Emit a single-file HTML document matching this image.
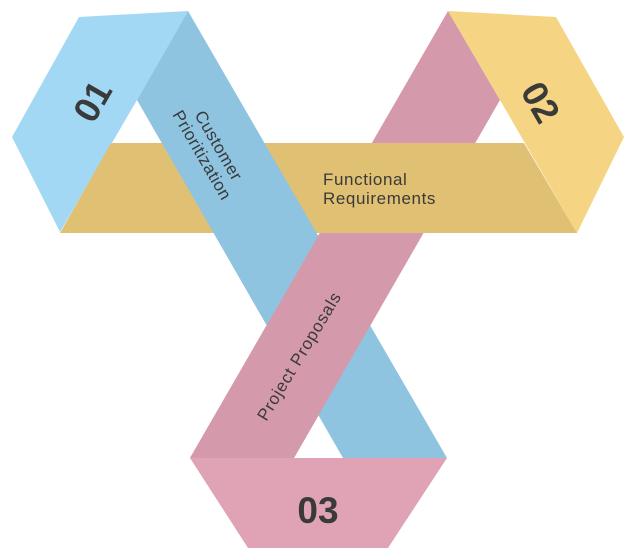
<!DOCTYPE html>
<html><head><style>html,body{margin:0;padding:0;background:#fff}svg{display:block}</style></head>
<body>
<svg width="632" height="560" viewBox="0 0 632 560" xmlns="http://www.w3.org/2000/svg" font-family="Liberation Sans, sans-serif">
<defs><clipPath id="low"><rect x="0" y="233" width="632" height="330"/></clipPath></defs>
<polygon points="448,11 500,100 294,458 190,458" fill="#d49aac"/>
<polygon points="448,11 556,17 624,137 577,233 500,100" fill="#f5d584"/>
<polygon points="79,17 188,11 137,100 60,232 12,137" fill="#a3d8f4"/>
<polygon points="111,143 524,143 577,233 60,233" fill="#e0c072"/>
<polygon points="188,11 447,458 343,458 137,100" fill="#8ec4e0"/>
<polygon points="448,11 500,100 294,458 190,458" fill="#d49aac" clip-path="url(#low)"/>
<polygon points="190,458 447,458 388,548 248,548" fill="#e0a3b5"/>
<g fill="#3a3a3a">
<text x="0" y="0" font-size="36" font-weight="bold" text-anchor="middle" transform="translate(92,101) rotate(-60) translate(0,13)">01</text>
<text x="0" y="0" font-size="36" font-weight="bold" text-anchor="middle" transform="translate(541,102) rotate(60) translate(0,13)">02</text>
<text x="318" y="523" font-size="37" font-weight="bold" text-anchor="middle">03</text>
<g transform="translate(211,150) rotate(60)" font-size="17" text-anchor="middle">
<text x="0" y="-3" letter-spacing="0.5">Customer</text><text x="0" y="16" letter-spacing="0.5">Prioritization</text></g>
<text x="323" y="185" font-size="17" letter-spacing="0.6">Functional</text>
<text x="323" y="204" font-size="17" letter-spacing="0.6">Requirements</text>
<text x="0" y="0" font-size="17" letter-spacing="0.8" text-anchor="middle" transform="translate(299,356) rotate(-59) translate(0,6)">Project Proposals</text>
</g>
</svg>
</body></html>
